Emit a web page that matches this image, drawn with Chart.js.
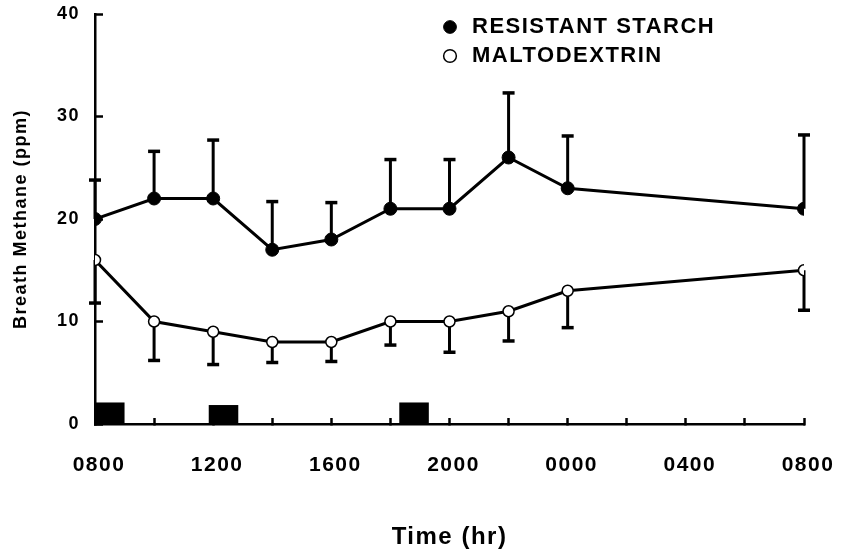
<!DOCTYPE html>
<html>
<head>
<meta charset="utf-8">
<script src="https://cdn.jsdelivr.net/npm/chart.js@4"></script>
<style>
  html, body { margin: 0; padding: 0; background: #fff; }
</style>
</head>
<body>
<canvas id="methaneChart" width="847" height="554"></canvas>
<script>
// sample times, hours after 0800 on day 1
const sampleHours = [0, 2, 4, 6, 8, 10, 12, 14, 16, 24];
const resistantStarch = [20, 22, 22, 17, 18, 21, 21, 26, 23, 21];
const resistantStarchSE = [3.8, 4.6, 5.7, 4.7, 3.6, 4.8, 4.8, 6.3, 5.1, 7.2];
const maltodextrin = [16, 10, 9, 8, 8, 10, 10, 11, 13, 15];
const maltodextrinSE = [4.2, 3.8, 3.2, 2.0, 1.9, 2.3, 3.0, 2.9, 3.6, 3.9];
const xTickLabels = ['0800', '1200', '1600', '2000', '0000', '0400', '0800'];
const yTicks = [0, 10, 20, 30, 40];
// meal markers: start hour, end hour, height
const mealStart = [0, 3.85, 10.3];
const mealEnd = [1.0, 4.85, 11.3];
const mealHeight = [2.1, 1.85, 2.1];

Chart.defaults.font.family = "'Liberation Sans', Arial, sans-serif";
Chart.defaults.color = '#000';

const tracking = {
    id: 'tracking',
    beforeUpdate(chart) { chart.ctx.letterSpacing = '1.5px'; },
    beforeLayout(chart) { chart.ctx.letterSpacing = '1.5px'; },
    beforeDraw(chart) { chart.ctx.letterSpacing = '1.5px'; }
};

const legendPlacement = {
    id: 'legendPlacement',
    afterLayout(chart) {
        chart.legend.left = 432;
        chart.legend.top = 9;
    }
};

const errorBars = {
    id: 'errorBars',
    beforeDatasetsDraw(chart) {
        const { ctx, scales: { x, y } } = chart;
        ctx.save();
        ctx.fillStyle = '#000';
        mealStart.forEach((s, i) => {
            const x0 = x.getPixelForValue(s);
            const x1 = x.getPixelForValue(mealEnd[i]);
            const y0 = y.getPixelForValue(mealHeight[i]);
            ctx.fillRect(x0, y0, x1 - x0, y.getPixelForValue(0) - y0);
        });
        ctx.strokeStyle = '#000';
        const bar = (t, from, to) => {
            const px = x.getPixelForValue(t);
            const py = y.getPixelForValue(to);
            ctx.lineWidth = 3;
            ctx.beginPath();
            ctx.moveTo(px, y.getPixelForValue(from));
            ctx.lineTo(px, py);
            ctx.stroke();
            ctx.lineWidth = 3.5;
            ctx.beginPath();
            ctx.moveTo(px - 6, py);
            ctx.lineTo(px + 6, py);
            ctx.stroke();
        };
        sampleHours.forEach((t, i) => {
            bar(t, resistantStarch[i], resistantStarch[i] + resistantStarchSE[i]);
            bar(t, maltodextrin[i], maltodextrin[i] - maltodextrinSE[i]);
        });
        ctx.restore();
    }
};

const ctx = document.getElementById('methaneChart').getContext('2d');
new Chart(ctx, {
    type: 'line',
    data: {
        datasets: [
            {
                label: 'RESISTANT STARCH',
                data: sampleHours.map((h, i) => ({ x: h, y: resistantStarch[i] })),
                borderColor: '#000', borderWidth: 3,
                pointRadius: 6.5, pointBackgroundColor: '#000', pointBorderColor: '#000', pointBorderWidth: 1
            },
            {
                label: 'MALTODEXTRIN',
                data: sampleHours.map((h, i) => ({ x: h, y: maltodextrin[i] })),
                borderColor: '#000', borderWidth: 3,
                pointRadius: 5.5, pointBackgroundColor: '#fff', pointBorderColor: '#000', pointBorderWidth: 1.5
            }
        ]
    },
    options: {
        responsive: false,
        animation: false,
        layout: { padding: { left: 0, top: 14, right: 43, bottom: 0 } },
        plugins: {
            legend: {
                position: 'chartArea', align: 'start',
                labels: { usePointStyle: true, boxHeight: 9, padding: 7, color: '#000', font: { size: 22, weight: 'bold' } }
            },
            tooltip: { enabled: false }
        },
        scales: {
            x: {
                type: 'linear', min: 0, max: 24,
                border: { color: '#000', width: 2.5 },
                grid: { drawOnChartArea: false, tickLength: -6, tickWidth: 2.5, tickColor: '#000' },
                ticks: {
                    stepSize: 2, autoSkip: false, maxRotation: 0, padding: 35, labelOffset: 4,
                    font: { size: 21, weight: 'bold' },
                    callback: v => (v % 4 === 0 ? xTickLabels[v / 4] : '')
                },
                title: { display: true, text: 'Time (hr)', font: { size: 24, weight: 'bold' }, padding: { top: 0, bottom: 2 } },
                afterFit: s => { s.height = 130; s.paddingLeft = 0; s.paddingRight = 0; }
            },
            y: {
                min: 0, max: 40,
                border: { color: '#000', width: 2.5 },
                grid: { drawOnChartArea: false, tickLength: -8, tickWidth: 2.5, tickColor: '#000' },
                ticks: { padding: 23, font: { size: 18, weight: 'bold' } },
                afterBuildTicks: s => { s.ticks = yTicks.map(v => ({ value: v })); },
                title: { display: true, text: 'Breath Methane (ppm)', font: { size: 18, weight: 'bold' }, padding: { top: 10, bottom: 0 } },
                afterFit: s => { s.width = 95; s.paddingTop = 0; s.paddingBottom = 0; }
            }
        }
    },
    plugins: [tracking, legendPlacement, errorBars]
});
</script>
</body>
</html>
